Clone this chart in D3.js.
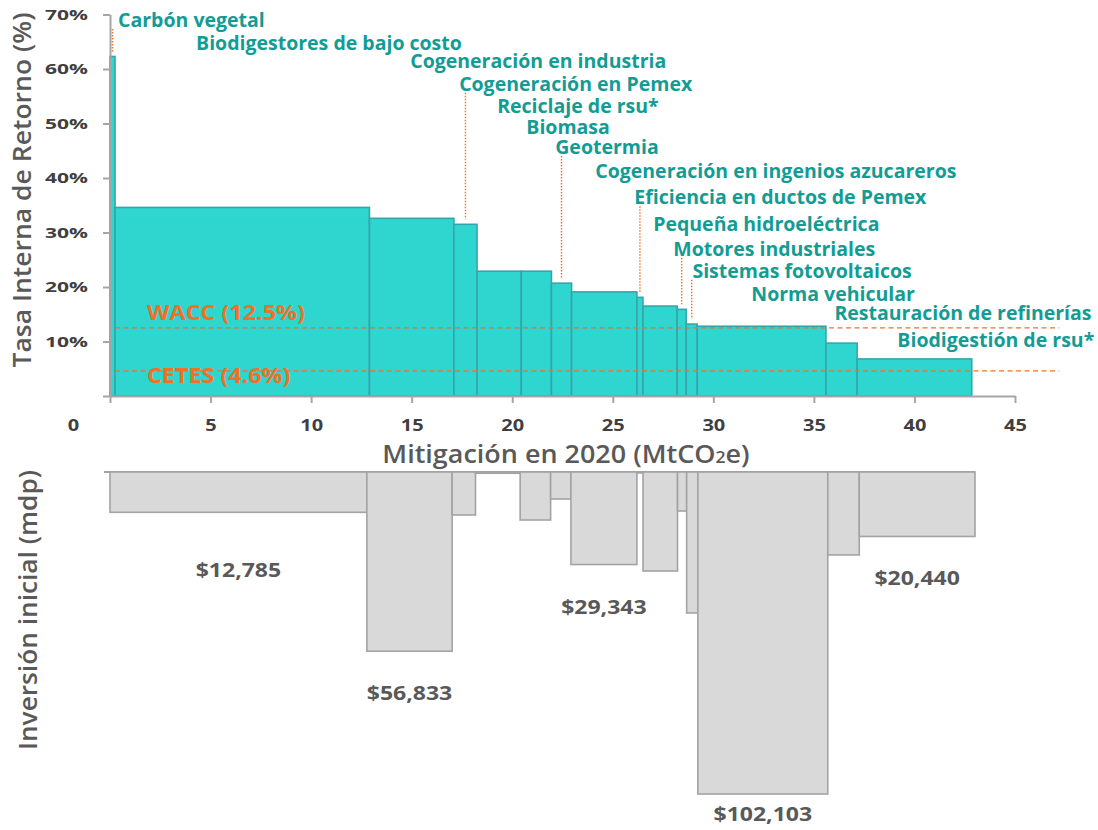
<!DOCTYPE html>
<html>
<head>
<meta charset="utf-8">
<script src="https://cdn.jsdelivr.net/npm/d3@7"></script>
<style>
  body { margin: 0; background: #ffffff; }
  svg { display: block; font-family: "Open Sans", "DejaVu Sans", sans-serif; }
</style>
</head>
<body>
<svg id="chart" width="1098" height="830"></svg>
<script>
// Mitigation measures, in merit order (highest internal rate of return first)
const measures = [
  "Carbón vegetal",
  "Biodigestores de bajo costo",
  "Cogeneración en industria",
  "Cogeneración en Pemex",
  "Reciclaje de rsu*",
  "Biomasa",
  "Geotermia",
  "Cogeneración en ingenios azucareros",
  "Eficiencia en ductos de Pemex",
  "Pequeña hidroeléctrica",
  "Motores industriales",
  "Sistemas fotovoltaicos",
  "Norma vehicular",
  "Restauración de refinerías",
  "Biodigestión de rsu*"
];

// Abatement potential in 2020 (MtCO2e) – bar widths
const mitigation = [0.25, 12.65, 4.2, 1.15, 2.2, 1.5, 1.0, 3.25, 0.3, 1.7, 0.45, 0.55, 6.4, 1.55, 5.7];

// Internal rate of return (%) – bar heights
const irr = [62.3, 34.6, 32.6, 31.5, 22.9, 22.9, 20.7, 19.1, 18.1, 16.5, 15.9, 13.2, 12.8, 9.7, 6.8];

// Initial investment (millions of pesos)
const investment = [0, 12785, 56833, 13630, 400, 15220, 8560, 29343, 300, 31390, 12370, 44700, 102103, 26300, 20440];

// Investments whose amount is written under the bar
const labeledInvestments = ["Biodigestores de bajo costo", "Cogeneración en industria",
  "Cogeneración en ingenios azucareros", "Norma vehicular", "Biodigestión de rsu*"];

// Benchmark rates (%)
const benchmarkNames = ["WACC (12.5%)", "CETES (4.6%)"];
const benchmarkRates = [12.5, 4.6];

// Axis ticks
const xTicks = [0, 5, 10, 15, 20, 25, 30, 35, 40, 45];
const yTicks = [0, 10, 20, 30, 40, 50, 60, 70];

// Measures whose label gets a dotted leader down to the bar
const leaderMeasures = ["Carbón vegetal", "Cogeneración en Pemex", "Geotermia",
  "Eficiencia en ductos de Pemex", "Motores industriales", "Sistemas fotovoltaicos"];

// ---------- layout ----------
const svg = d3.select("#chart");
const C = {
  teal: "#2ed6cf", tealEdge: "#34a6ab", tealText: "#129c94",
  orange: "#f07125", axis: "#a6a6a6", text: "#595959", tick: "#3f3f3f",
  grayFill: "#d9d9d9", grayEdge: "#a3a3a3"
};

// widen text horizontally by factor k (keeps glyph height)
function widen(sel, k) {
  sel.each(function () {
    const w = this.getComputedTextLength();
    this.setAttribute("textLength", w * k);
    this.setAttribute("lengthAdjust", "spacingAndGlyphs");
  });
}

// label cascade: [left edge in MtCO2e, baseline in %]
const labelAnchor = [
  [0.40, 67.7], [4.28, 63.4], [14.93, 60.2], [17.36, 56.0], [19.25, 51.9],
  [20.70, 48.1], [22.14, 44.4], [24.13, 40.0], [26.07, 35.2], [27.01, 30.3],
  [28.01, 25.7], [28.96, 21.7], [31.89, 17.4], [36.02, 13.9], [39.15, 9.0]
];

// cumulative extents of each measure along the mitigation axis
let acc = 0;
const rows = measures.map((name, i) => {
  const r = { name, i, x0: acc, x1: acc + mitigation[i], irr: irr[i], inv: investment[i] };
  acc += mitigation[i];
  return r;
});
const total = acc;

const x = d3.scaleLinear().domain([0, 45]).range([110, 1015]);
const y = d3.scaleLinear().domain([0, 70]).range([396, 14.5]);

// ---------- upper panel: IRR vs. mitigation ----------
const upper = svg.append("g");

upper.append("g").selectAll("rect")
  .data(rows)
  .join("rect")
  .attr("x", d => x(d.x0))
  .attr("y", d => y(d.irr))
  .attr("width", d => x(d.x1) - x(d.x0))
  .attr("height", d => y(0) - y(d.irr))
  .attr("fill", C.teal)
  .attr("stroke", C.tealEdge)
  .attr("stroke-width", 1.6);

// benchmark rate lines
benchmarkRates.forEach((r, k) => {
  upper.append("line")
    .attr("x1", x(0.25)).attr("x2", x(47.2))
    .attr("y1", y(r)).attr("y2", y(r))
    .attr("stroke", C.orange).attr("stroke-width", 1.3)
    .attr("stroke-dasharray", "5,3.5");
  const t = upper.append("text")
    .attr("x", x(1.84))
    .attr("y", y(r) - (k === 0 ? 8 : -12))
    .attr("fill", C.orange)
    .attr("font-size", 22).attr("font-weight", 700)
    .text(benchmarkNames[k]);
  widen(t, 1.06);
});

// axes
const xAxis = upper.append("g")
  .attr("transform", `translate(0,${y(0)})`)
  .call(d3.axisBottom(x).tickValues(xTicks).tickSize(7).tickSizeOuter(0).tickPadding(17));
const yAxis = upper.append("g")
  .attr("transform", `translate(${x(0)},0)`)
  .call(d3.axisLeft(y).tickValues(yTicks).tickSize(7).tickSizeOuter(0).tickPadding(15)
    .tickFormat(d => d === 0 ? "" : d + "%"));
[xAxis, yAxis].forEach(a => {
  a.select(".domain").attr("stroke", C.axis).attr("stroke-width", 2);
  a.selectAll(".tick line").attr("stroke", C.axis).attr("stroke-width", 2);
  a.selectAll(".tick text").attr("fill", C.tick)
    .attr("font-weight", 700).attr("font-family", "'Open Sans', sans-serif");
});
xAxis.selectAll(".tick text").attr("font-size", 16);
yAxis.selectAll(".tick text").attr("font-size", 15);
widen(xAxis.selectAll(".tick text"), 1.25);
widen(yAxis.selectAll(".tick text"), 1.4);
// the origin label sits apart from the axis
xAxis.selectAll(".tick").filter(d => d === 0).select("text").attr("dx", -37);

// measure labels and leaders
const labels = upper.append("g");
rows.forEach(d => {
  const [lx, ly] = labelAnchor[d.i];
  labels.append("text")
    .attr("x", x(lx)).attr("y", y(ly))
    .attr("fill", C.tealText)
    .attr("font-size", 19.5).attr("font-weight", 700)
    .text(d.name);
  if (leaderMeasures.includes(d.name)) {
    const cx = x((d.x0 + d.x1) / 2);
    labels.append("line")
      .attr("x1", cx).attr("x2", cx)
      .attr("y1", y(ly) + 2).attr("y2", y(d.irr) - 5)
      .attr("stroke", C.orange).attr("stroke-width", 1.4)
      .attr("stroke-dasharray", "1.5,1.5");
  }
});

// axis titles
const title = svg.append("text")
  .attr("x", 566).attr("y", 463)
  .attr("text-anchor", "middle")
  .attr("fill", C.text).attr("font-size", 24.5).attr("font-weight", 600);
title.append("tspan").text("Mitigación en 2020 (MtCO");
title.append("tspan").attr("font-size", 16).text("2");
title.append("tspan").text("e)");
widen(title, 1.1);

const yTitle = svg.append("text")
  .attr("transform", "translate(31,190) rotate(-90)")
  .attr("text-anchor", "middle")
  .attr("fill", C.text).attr("font-size", 25).attr("font-weight", 600)
  .text("Tasa Interna de Retorno (%)");
widen(yTitle, 1.06);

const invTitle = svg.append("text")
  .attr("transform", "translate(37,610) rotate(-90)")
  .attr("text-anchor", "middle")
  .attr("fill", C.text).attr("font-size", 25).attr("font-weight", 600)
  .text("Inversión inicial (mdp)");
widen(invTitle, 1.05);

// ---------- lower panel: initial investment, hanging below the same measures ----------
const xInv = d3.scaleLinear().domain([rows[1].x0, total]).range([110, 975]);
const yInv = d3.scaleLinear().domain([0, 102103]).range([472, 794]);
const lower = svg.append("g");

lower.append("line")
  .attr("x1", 104).attr("x2", xInv(total))
  .attr("y1", yInv(0)).attr("y2", yInv(0))
  .attr("stroke", C.grayEdge).attr("stroke-width", 2);

lower.append("g").selectAll("rect")
  .data(rows.filter(d => d.inv > 0))
  .join("rect")
  .attr("x", d => xInv(d.x0))
  .attr("y", yInv(0))
  .attr("width", d => xInv(d.x1) - xInv(d.x0))
  .attr("height", d => yInv(d.inv) - yInv(0))
  .attr("fill", C.grayFill)
  .attr("stroke", C.grayEdge)
  .attr("stroke-width", 1.6);

// gap between a bar's bottom and its amount label
const amountGap = { "Biodigestores de bajo costo": 65, "Norma vehicular": 27 };
const amounts = lower.append("g").selectAll("text")
  .data(rows.filter(d => labeledInvestments.includes(d.name)))
  .join("text")
  .attr("x", d => xInv((d.x0 + d.x1) / 2))
  .attr("y", d => yInv(d.inv) + (amountGap[d.name] || 49))
  .attr("text-anchor", "middle")
  .attr("fill", C.text).attr("font-size", 20).attr("font-weight", 700)
  .text(d => d3.format("$,")(d.inv));
widen(amounts, 1.15);
</script>
</body>
</html>
